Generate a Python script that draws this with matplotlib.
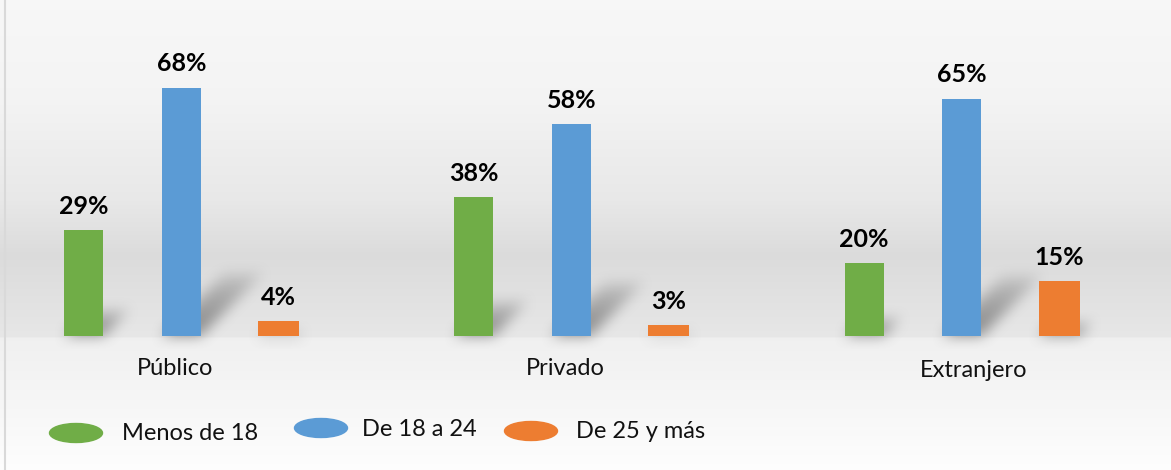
import numpy as np
import matplotlib
matplotlib.use("Agg")
import matplotlib.pyplot as plt
from matplotlib.patches import Ellipse
from matplotlib.lines import Line2D

# datos
categorias = ["Público", "Privado", "Extranjero"]
series = ["Menos de 18", "De 18 a 24", "De 25 y más"]
menos_18 = [29, 38, 20]
de_18_24 = [68, 58, 65]
de_25_mas = [4, 3, 15]
valores = [menos_18, de_18_24, de_25_mas]
colores = ["#70AD47", "#5B9BD5", "#ED7D31"]

W, H = 1171, 470
plt.rcParams['font.family'] = ['Lato', 'DejaVu Sans']

fig = plt.figure(figsize=(W / 100, H / 100), dpi=100)
ax = fig.add_axes([0, 0, 1, 1])
ax.axis('off')
x0, x1 = -0.465, 2.537
y0, y1 = -36.7, 92.05
ax.set_xlim(x0, x1)
ax.set_ylim(y0, y1)

# fondo degradado
filas = np.arange(H)
stops_px = [0, 100, 200, 255, 300, 336, 338, 400, 470]
stops_g = [0.97, 0.955, 0.91, 0.86, 0.885, 0.905, 0.94, 0.965, 0.995]
g = np.interp(filas, stops_px, stops_g)
fondo = np.repeat(g[:, None], 8, axis=1)
fondo = np.dstack([fondo, fondo, fondo])
ax.imshow(fondo, extent=(x0, x1, y0, y1), aspect='auto', zorder=0, interpolation='bilinear')

# sombras inclinadas detras de las barras
x = np.arange(len(categorias))
offsets = [-0.25, 0.0, 0.25]
anchos = [0.1, 0.1, 0.105]
px_x = W / (x1 - x0)
px_y = H / (y1 - y0)
gx = x0 + (np.arange(W) + 0.5) / px_x
gy = y1 - (np.arange(H) + 0.5) / px_y
GX, GY = np.meshgrid(gx, gy)
sombra = np.zeros((H, W))
for vals, off, w in zip(valores, offsets, anchos):
    for xi, v in zip(x, vals):
        alto = v * 0.26
        shift = GY * px_y / px_x
        izq = xi + off - w / 2 + shift
        der = xi + off + w / 2 + shift
        dentro = (GY >= 0) & (GY <= alto) & (GX >= izq) & (GX <= der)
        fuerza = np.clip(1 - GY / max(alto, 1e-6), 0, 1) ** 0.5
        sombra = np.maximum(sombra, np.where(dentro, fuerza, 0))


def blur(a, r):
    for eje in (0, 1):
        a = np.moveaxis(a, eje, 0)
        c = np.cumsum(np.pad(a, ((r + 1, r), (0, 0)), mode='edge'), axis=0)
        a = (c[2 * r + 1:] - c[:-2 * r - 1]) / (2 * r + 1)
        a = np.moveaxis(a, 0, eje)
    return a


sombra = blur(blur(sombra, 8), 6)
rgba = np.zeros((H, W, 4))
rgba[..., :3] = 0.42
rgba[..., 3] = np.clip(sombra * 0.75, 0, 1)
ax.imshow(rgba, extent=(x0, x1, y0, y1), aspect='auto', zorder=1, interpolation='bilinear')

# barras
for vals, off, w, col in zip(valores, offsets, anchos, colores):
    barras = ax.bar(x + off, vals, w, color=col, zorder=3)
    ax.bar_label(barras, labels=[f"{v}%" for v in vals], padding=9,
                 fontsize=18, fontweight='bold', color='black')

# etiquetas de categoria (un poco desplazadas como en el original)
desp_x = [-0.016, -0.016, 0.03]
desp_y = [-8.9, -8.9, -9.5]
for xi, cat, dx, dy in zip(x, categorias, desp_x, desp_y):
    ax.text(xi + dx, dy, cat, ha='center', va='center', fontsize=17, color='#111111')

# leyenda
ley_x = [76, 321, 531]
ley_y = [433, 428, 431]
txt_x = [122, 362, 576]
for nombre, col, lx, ly, tx in zip(series, colores, ley_x, ley_y, txt_x):
    fig.add_artist(Ellipse((lx / W, 1 - ly / H), 53 / W, 19 / H,
                           transform=fig.transFigure, color=col, zorder=5))
    fig.text(tx / W, 1 - (ly + 1) / H, nombre, ha='left', va='center',
             fontsize=17, color='#111111')

# borde izquierdo
fig.add_artist(Line2D([5.5 / W, 5.5 / W], [0, 1], transform=fig.transFigure,
                      color='#d9d9d9', lw=1.5))

fig.savefig("out.png", dpi=100)
